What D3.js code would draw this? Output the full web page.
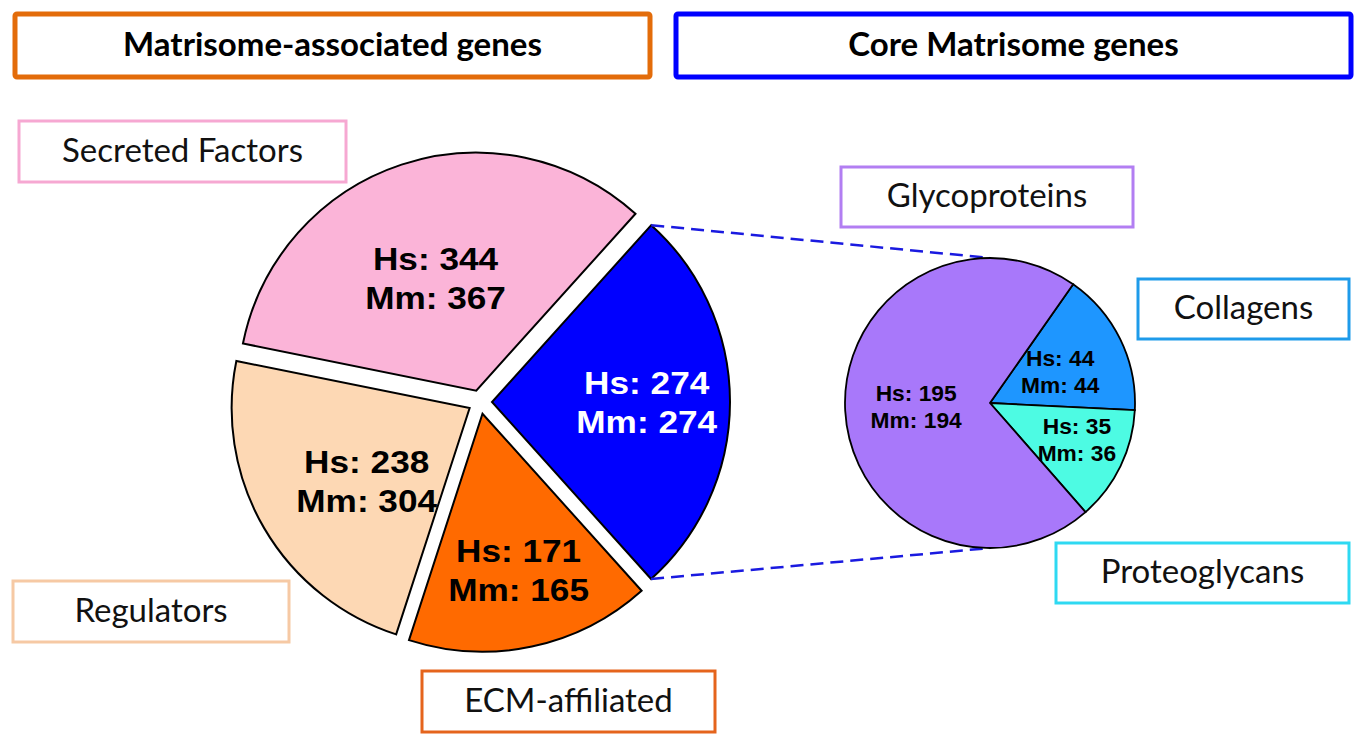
<!DOCTYPE html>
<html>
<head>
<meta charset="utf-8">
<script src="https://cdn.jsdelivr.net/npm/d3@7"></script>
<style>
  html, body { margin: 0; padding: 0; background: #fff; }
  svg { display: block; }
</style>
</head>
<body>
<svg id="chart" width="1363" height="748"></svg>
<script>
// ---------- data ----------
const bigCategories = ["Core Matrisome", "ECM-affiliated", "Regulators", "Secreted Factors"];
const bigHs = [274, 171, 238, 344];
const bigMm = [274, 165, 304, 367];

const smallCategories = ["Collagens", "Proteoglycans", "Glycoproteins"];
const smallHs = [44, 35, 195];
const smallMm = [44, 36, 194];

const headerTitles = ["Matrisome-associated genes", "Core Matrisome genes"];

// ---------- styles ----------
const bigFill = ["#0000FF", "#FF6A00", "#FDD8B4", "#FBB4D8"];
const bigText = ["#ffffff", "#000000", "#000000", "#000000"];
const bigLabelR = [0.65, 0.675, 0.53, 0.505];
const bigLabelShift = [0, -1, -5, -1.5];
const smallFill = ["#1E96FF", "#4DFBE3", "#A878FA"];
const smallLabelR = [0.53, 0.65, 0.51];
const smallLabelShift = [2, -3, 0];

const svg = d3.select("#chart");
const rad = Math.PI / 180;

// ---------- header boxes ----------
const headers = [
  {x: 15, y: 14, w: 635, h: 63, color: "#E36C0A"},
  {x: 676, y: 14, w: 675, h: 63, color: "#0000FF"}
];
headers.forEach((h, i) => {
  svg.append("rect").attr("x", h.x).attr("y", h.y).attr("width", h.w).attr("height", h.h)
    .attr("rx", 2).attr("fill", "#fff").attr("stroke", h.color).attr("stroke-width", 5);
  svg.append("text").attr("x", h.x + h.w / 2).attr("y", h.y + h.h / 2 + 2)
    .attr("text-anchor", "middle").attr("dominant-baseline", "middle")
    .attr("font-family", "Lato, 'Open Sans', sans-serif").attr("font-weight", "bold")
    .attr("font-size", 33).attr("fill", "#000").text(headerTitles[i]);
});

// ---------- category label boxes ----------
const boxes = [
  {name: "Secreted Factors", x: 19, y: 121, w: 327, h: 61, color: "#F6A8D2"},
  {name: "Regulators", x: 13, y: 581, w: 276, h: 61, color: "#F6C9A4"},
  {name: "ECM-affiliated", x: 422, y: 671, w: 293, h: 61, color: "#E5641C"},
  {name: "Glycoproteins", x: 841, y: 167, w: 292, h: 60, color: "#B27EF2"},
  {name: "Collagens", x: 1138, y: 279, w: 211, h: 60, color: "#1E9BEA"},
  {name: "Proteoglycans", x: 1056, y: 543, w: 293, h: 60, color: "#2ED9F2"}
];
boxes.forEach(b => {
  svg.append("rect").attr("x", b.x).attr("y", b.y).attr("width", b.w).attr("height", b.h)
    .attr("fill", "#fff").attr("stroke", b.color).attr("stroke-width", 3);
  svg.append("text").attr("x", b.x + b.w / 2).attr("y", b.y + b.h / 2 + 2)
    .attr("text-anchor", "middle").attr("dominant-baseline", "middle")
    .attr("font-family", "Lato, 'Open Sans', sans-serif")
    .attr("font-size", 33).attr("fill", "#111").text(b.name);
});

// ---------- big exploded pie ----------
const bigCx = 480, bigCy = 402, bigR = 238, explode = 12;
const bigData = bigCategories.map((c, i) => ({name: c, hs: bigHs[i], mm: bigMm[i], i}));
const bigPie = d3.pie().sort(null).value(d => d.hs)
  .startAngle(42 * rad).endAngle(42 * rad + 2 * Math.PI);
const bigArcs = bigPie(bigData);
const bigArc = d3.arc().innerRadius(0).outerRadius(bigR);

const gBig = svg.append("g").attr("transform", `translate(${bigCx},${bigCy})`);
bigArcs.forEach(a => {
  const mid = (a.startAngle + a.endAngle) / 2;
  const ox = Math.sin(mid) * explode, oy = -Math.cos(mid) * explode;
  const g = gBig.append("g").attr("transform", `translate(${ox},${oy})`);
  g.append("path").attr("d", bigArc(a)).attr("fill", bigFill[a.data.i])
    .attr("stroke", "#000").attr("stroke-width", 2).attr("stroke-linejoin", "miter");
  const la = mid + bigLabelShift[a.data.i] * rad;
  const lr = bigR * bigLabelR[a.data.i];
  const lx = Math.sin(la) * lr, ly = -Math.cos(la) * lr;
  const t = g.append("text").attr("text-anchor", "middle")
    .attr("transform", `translate(${lx},${ly}) scale(1.1,1)`)
    .attr("font-family", "'Liberation Sans', Arial, sans-serif").attr("font-weight", "bold")
    .attr("font-size", 32).attr("fill", bigText[a.data.i]);
  t.append("tspan").attr("x", 0).attr("y", -8).text(`Hs: ${a.data.hs}`);
  t.append("tspan").attr("x", 0).attr("y", 31).text(`Mm: ${a.data.mm}`);
});

// ---------- small pie ----------
const smCx = 990, smCy = 403, smR = 145;
const smallData = smallCategories.map((c, i) => ({name: c, hs: smallHs[i], mm: smallMm[i], i}));
const smallPie = d3.pie().sort(null).value(d => d.hs)
  .startAngle(35 * rad).endAngle(35 * rad + 2 * Math.PI);
const smallArcs = smallPie(smallData);
const smallArc = d3.arc().innerRadius(0).outerRadius(smR);

// connector dashed lines from the core slice to the small pie
const core = bigArcs[0];
const coreMid = (core.startAngle + core.endAngle) / 2;
const cox = bigCx + Math.sin(coreMid) * explode, coy = bigCy - Math.cos(coreMid) * explode;
const p1 = [cox + Math.sin(core.startAngle) * bigR, coy - Math.cos(core.startAngle) * bigR];
const p2 = [cox + Math.sin(core.endAngle) * bigR, coy - Math.cos(core.endAngle) * bigR];
[[p1, [smCx, smCy - smR]], [p2, [smCx, smCy + smR]]].forEach(([a, b]) => {
  svg.append("line").attr("x1", a[0]).attr("y1", a[1]).attr("x2", b[0]).attr("y2", b[1])
    .attr("stroke", "#1A1AE0").attr("stroke-width", 2.5).attr("stroke-dasharray", "13,7");
});

const gSm = svg.append("g").attr("transform", `translate(${smCx},${smCy})`);
smallArcs.forEach(a => {
  gSm.append("path").attr("d", smallArc(a)).attr("fill", smallFill[a.data.i])
    .attr("stroke", "#000").attr("stroke-width", 1.8);
});
smallArcs.forEach(a => {
  const mid = (a.startAngle + a.endAngle) / 2 + smallLabelShift[a.data.i] * rad;
  const lr = smR * smallLabelR[a.data.i];
  const lx = Math.sin(mid) * lr, ly = -Math.cos(mid) * lr;
  const t = gSm.append("text").attr("text-anchor", "middle")
    .attr("transform", `translate(${lx},${ly}) scale(1.06,1)`)
    .attr("font-family", "'Liberation Sans', Arial, sans-serif").attr("font-weight", "bold")
    .attr("font-size", 21.5).attr("fill", "#000");
  t.append("tspan").attr("x", 0).attr("y", -6).text(`Hs: ${a.data.hs}`);
  t.append("tspan").attr("x", 0).attr("y", 21.5).text(`Mm: ${a.data.mm}`);
});
</script>
</body>
</html>
